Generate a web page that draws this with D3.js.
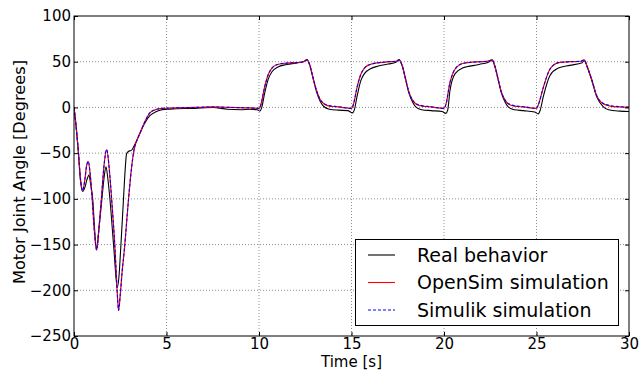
<!DOCTYPE html>
<html><head><meta charset="utf-8">
<script src="https://cdn.jsdelivr.net/npm/d3@7"></script>
<style>body{margin:0;background:#fff}svg{display:block}text{font-family:"DejaVu Sans",sans-serif;fill:#000}</style>
</head><body><svg id="c" width="639" height="372"></svg>
<script>
const xTicks = [0, 5, 10, 15, 20, 25, 30];
const yTicks = [100, 50, 0, -50, -100, -150, -200, -250];
const seriesNames = ["Real behavior", "OpenSim simulation", "Simulik simulation"];

const realTime = [0,0.1,0.23,0.35,0.47,0.58,0.7,0.81,0.9,1.02,1.12,1.22,1.35,1.5,1.62,1.73,1.83,1.95,2.16,2.34,2.43,2.52,2.67,2.76,2.84,2.95,3.1,3.3,3.57,3.8,4.1,4.4,4.65,5.0,5.5,6.5,7.5,8.3,9.0,9.5,9.9,10.05,
 10.15,10.3,10.5,10.7,11.0,11.5,12.0,12.4,12.6,12.75,12.9,13.1,13.3,13.5,13.8,14.3,14.8,15.05,
 15.15,15.3,15.5,15.7,16.0,16.5,17.0,17.4,17.58,17.75,17.9,18.1,18.3,18.5,18.8,19.3,19.9,20.1,
 20.2,20.32,20.6,21.0,21.9,22.45,22.6,22.75,22.9,23.1,23.3,23.5,23.8,24.3,24.9,25.1,
 25.2,25.37,25.73,26.18,26.8,27.47,27.58,27.75,27.98,28.25,28.6,28.9,29.5,30];
const realValues = [0,-18,-47,-80,-92,-88,-79,-74,-84,-102,-135,-155,-132,-102,-78,-65,-78,-102,-156,-197,-185,-156,-102,-70,-51,-48,-47,-40,-28,-18,-9,-5,-3,-2,-1.5,-1,0,-2,-2.5,-2,-2.5,-4,
 0,15,31,39,44,47,48.5,50,52,46,34,18,7,1,-2,-3,-3.5,-6,
 -3,12,29,37,42,45.5,47.5,49.5,52,45,33,16,6,0,-2.5,-3.5,-4.5,-6.5,
 -3,18,37,43,47,50,52,45,33,16,6,0,-2.5,-3.5,-5,-7,
 -3,12,35,43,46,49,51.4,44,30,12,1,-2.5,-4,-4.5];

const simTime = [0,0.1,0.23,0.35,0.47,0.58,0.68,0.77,0.87,0.99,1.1,1.22,1.35,1.48,1.62,1.77,1.9,2.04,2.22,2.33,2.41,2.5,2.6,2.72,2.94,3.1,3.24,3.4,3.57,3.8,4.1,4.4,4.8,5.5,6.5,7.5,8.5,9.5,10.0,
 10.1,10.3,10.5,10.7,11.0,11.5,12.0,12.4,12.6,12.75,12.9,13.1,13.3,13.5,13.8,14.3,15.0,
 15.1,15.3,15.5,15.7,16.0,16.5,17.0,17.4,17.58,17.75,17.9,18.1,18.3,18.5,18.8,19.3,20.0,
 20.1,20.32,20.6,21.0,21.5,22.0,22.45,22.6,22.75,22.9,23.1,23.3,23.5,23.8,24.3,25.0,
 25.1,25.37,25.73,26.2,26.8,27.4,27.58,27.75,27.98,28.25,28.6,29.0,29.5,30];
const opensimValues = [0,-18,-47,-78,-91,-80,-64,-59,-72,-102,-135,-156,-132,-100,-64,-46,-66,-102,-156,-200,-222,-205,-180,-156,-102,-68,-47,-36,-28,-17,-6,-2.5,-1,-0.5,0,0.5,0,-0.5,-1,
 3,22,36,43,47,48.5,49,50,52,46,34,19,9,4,1.5,0.5,-1,
 3,22,36,43,47,49,50,50.5,52,45,33,17,8,3.5,1.5,0.5,-1,
 3,27,42,48,49.5,50,51,52,45,33,17,8,3.5,1.5,0.5,-1,
 3,22,42,49,50,50.5,52,44,31,13,4,1.5,0.5,0];
const simulikValues = [0,-18,-47,-78,-91,-80,-64,-59,-72,-102,-135,-156,-132,-100,-64,-46,-66,-102,-156,-200,-222,-205,-180,-156,-102,-68,-47,-36,-28,-17,-6,-2.5,-1,-0.5,0,0.5,0,-0.5,-1,
 3,22,36,43,47,48.5,49,50,52,46,34,19,9,4.5,2,0.8,-1,
 3,22,36,43,47,49,50,50.5,52,45,33,17,8,4,2,0.8,-1,
 3,27,42,48,49.5,50,51,52,45,33,17,8,4,2,0.8,-1,
 3,22,42,49,50,50.5,52,44,31,13,4.5,2,0.8,0.3];

const svg = d3.select("#c");
const L = 74, R = 629, T = 16, B = 336;
const x = d3.scaleLinear().domain([0, 30]).range([L, R]);
const y = d3.scaleLinear().domain([-250, 100]).range([B, T]);

// grid
const g = svg.append("g");
g.selectAll(".vx").data(xTicks.slice(1, -1)).join("line")
  .attr("x1", d => x(d)).attr("x2", d => x(d)).attr("y1", T).attr("y2", B)
  .attr("stroke", "#000").attr("stroke-opacity", 0.55).attr("stroke-width", 0.8).attr("stroke-dasharray", "1,2");
g.selectAll(".hy").data(yTicks.slice(1, -1)).join("line")
  .attr("x1", L).attr("x2", R).attr("y1", d => y(d)).attr("y2", d => y(d))
  .attr("stroke", "#000").attr("stroke-opacity", 0.55).attr("stroke-width", 0.8).attr("stroke-dasharray", "1,2");

// lines
const line = d3.line().curve(d3.curveMonotoneX);
svg.append("clipPath").attr("id", "pc").append("rect").attr("x", L).attr("y", T).attr("width", R - L).attr("height", B - T);
const lg = svg.append("g").attr("clip-path", "url(#pc)");
lg.append("path").attr("d", line(realTime.map((t, i) => [x(t), y(realValues[i])])))
  .attr("fill", "none").attr("stroke", "#000").attr("stroke-width", 1.1);
lg.append("path").attr("d", line(simTime.map((t, i) => [x(t), y(opensimValues[i])])))
  .attr("fill", "none").attr("stroke", "#ff0000").attr("stroke-width", 1.2);
lg.append("path").attr("d", line(simTime.map((t, i) => [x(t), y(simulikValues[i])])))
  .attr("fill", "none").attr("stroke", "#0000ff").attr("stroke-width", 1.1).attr("stroke-dasharray", "3,2");

// axes (ticks inside on all sides)
const axB = svg.append("g").attr("transform", `translate(0,${B})`)
  .call(d3.axisBottom(x).tickValues(xTicks).tickSize(-4).tickPadding(2).tickFormat(d3.format("d")));
const axT = svg.append("g").attr("transform", `translate(0,${T})`).call(d3.axisTop(x).tickValues(xTicks).tickSize(-4).tickFormat(""));
const ayL = svg.append("g").attr("transform", `translate(${L},0)`).call(d3.axisLeft(y).tickValues(yTicks).tickSize(-4).tickPadding(3).tickFormat(d => d < 0 ? "\u2212" + Math.abs(d) : d));
const ayR = svg.append("g").attr("transform", `translate(${R},0)`).call(d3.axisRight(y).tickValues(yTicks).tickSize(-4).tickFormat(""));
[axB, axT, ayL, ayR].forEach(a => { a.select(".domain").remove(); a.selectAll("line").attr("stroke", "#000"); });
svg.selectAll(".tick text").attr("font-size", 15).attr("font-family", "DejaVu Sans").attr("fill", "#000");
axB.selectAll(".tick text").attr("dy", "0.71em");

svg.append("rect").attr("x", L).attr("y", T).attr("width", R - L).attr("height", B - T)
  .attr("fill", "none").attr("stroke", "#000").attr("stroke-width", 1);

svg.append("text").attr("x", (L + R) / 2).attr("y", 367).attr("text-anchor", "middle").attr("font-size", 15).text("Time [s]");
svg.append("text").attr("transform", `translate(25,172) rotate(-90)`).attr("text-anchor", "middle").attr("font-size", 16.2).text("Motor Joint Angle [Degrees]");

// legend
const leg = svg.append("g");
leg.append("rect").attr("x", 355.5).attr("y", 239.5).attr("width", 263).attr("height", 86).attr("fill", "#fff").attr("stroke", "#000").attr("stroke-width", 1);
const legStyles = [{c: "#000", d: null}, {c: "#ff0000", d: null}, {c: "#0000ff", d: "3,2"}];
seriesNames.forEach((n, i) => {
  const yy = 255 + i * 27.5;
  leg.append("line").attr("x1", 368).attr("x2", 395).attr("y1", yy).attr("y2", yy)
    .attr("stroke", legStyles[i].c).attr("stroke-width", 1.1).attr("stroke-dasharray", legStyles[i].d);
  leg.append("text").attr("x", 417).attr("y", yy + 6.5).attr("font-size", 19).text(n);
});
</script></body></html>
